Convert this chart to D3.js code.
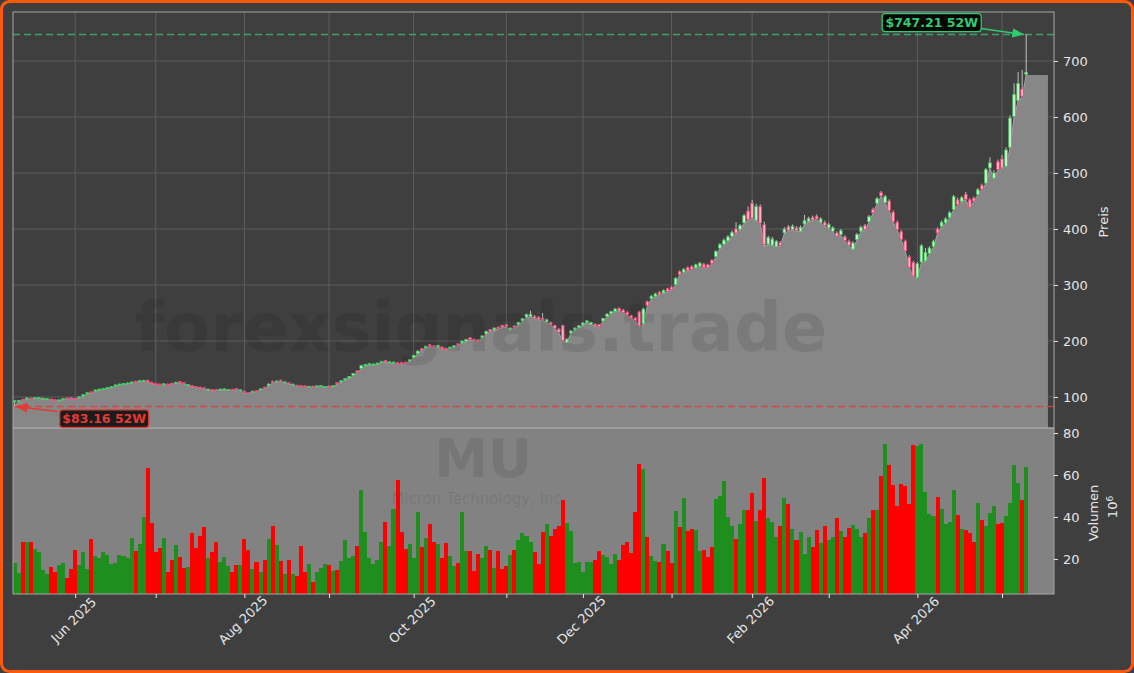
<!DOCTYPE html>
<html>
<head>
<meta charset="utf-8">
<script src="https://cdn.jsdelivr.net/npm/d3@7"></script>
<style>
html, body { margin: 0; padding: 0; background: #3f3f3f; }
svg { display: block; font-family: "DejaVu Sans", sans-serif; }
</style>
</head>
<body>
<svg id="chart" width="1134" height="673"></svg>
<script>
// daily OHLC + volume (millions), one entry per trading day
var opens = [91.8, 92.8, 95.8, 96.8, 98, 97.8, 98.3, 96.8, 96.2, 96.2,
    95.2, 93.8, 95.8, 98.2, 98.6, 97.8, 98.8, 101.8, 105.8, 109,
    110.8, 112.8, 113.8, 115.8, 116.8, 119.8, 121.8, 122.8, 123.8, 125.3,
    128, 127.8, 128.3, 129.5, 126.2, 124, 123, 122.2, 123, 124.5,
    124.8, 127.5, 125.5, 120.8, 120.5, 118.8, 117.5, 116.3, 112.8, 113,
    113.5, 112.8, 113.3, 112.3, 113.8, 115, 111.8, 110.2, 108, 108.8,
    111.5, 112.8, 117.5, 119.8, 128, 126.8, 130, 125.8, 125.3, 121.8,
    121, 120.3, 119.8, 117.8, 119.3, 118.8, 119.3, 117.8, 119.5, 118.8,
    125.5, 126.8, 130.8, 133.8, 138.8, 146.5, 151, 155.8, 157.8, 157.3,
    158.8, 161.8, 165, 161.3, 160.8, 161, 161.3, 162.3, 163.8, 170.8,
    177.8, 186.3, 187.8, 193.3, 191.3, 189.8, 189, 186.8, 186.8, 188.8,
    195, 196.8, 199.8, 205.5, 203, 202, 205.8, 212.8, 220, 219.8,
    224.5, 227.5, 228.5, 219.8, 226.5, 228.8, 235.8, 242.8, 243.8, 244,
    242, 241, 233.8, 233, 227.5, 221, 228, 197.8, 213.8, 219.8,
    223.8, 228.8, 232.8, 229.8, 230, 229, 235.8, 243.8, 248.8, 252.8,
    258, 255, 251, 245, 241, 252, 231, 270, 275.8, 279.8,
    287, 285.8, 293, 296, 300.8, 324, 322.8, 331, 333, 330.8,
    333.8, 337, 336, 344, 350.8, 365.8, 372.8, 378.8, 386.8, 400,
    398.8, 410.8, 432, 446, 415.8, 440, 408, 372.8, 370.8, 368.8,
    376, 393, 404, 399, 402, 396, 409, 414, 421, 423,
    412, 412, 402, 396, 393, 390, 386, 378, 364, 381,
    396, 406, 413, 435, 446, 465, 447, 450, 430, 412,
    395, 378, 350, 340, 313, 341, 343, 356, 369, 400,
    405, 411, 421, 435, 452, 449, 462, 452, 455, 462,
    478, 482, 509, 491, 520, 525, 512, 546, 601, 629,
    650, 676];

var highs = [94, 94.5, 96.5, 99, 98.8, 99.5, 99.8, 98.5, 97.5, 97,
    96, 95.5, 97.6, 98.8, 99.2, 98.5, 101.2, 104.8, 108.2, 109.8,
    113.2, 114.8, 116, 117.8, 119.2, 122.2, 123.8, 124.8, 125.8, 127.5,
    128.8, 130, 130.5, 131, 127, 124.8, 123.8, 124.2, 123.8, 125.2,
    127, 128.2, 126.2, 123, 121.2, 119.5, 118.2, 117, 114.8, 113.8,
    114.2, 114.8, 115.2, 114.2, 114.5, 115.8, 113.8, 111, 108.8, 111,
    112.2, 115.2, 118.2, 124, 129, 129.3, 130.8, 127.8, 126, 123.8,
    121.8, 121, 120.5, 119.8, 120, 120.5, 121, 119.5, 120.2, 120.8,
    126.3, 129.8, 134, 137.5, 143, 147.5, 157.5, 159, 160.5, 159.8,
    161.3, 164.5, 166, 163.8, 163.2, 162, 162.2, 163.2, 167.5, 175.2,
    183.3, 187.5, 191.8, 194.5, 192.5, 193.2, 190.2, 188, 190.2, 192.8,
    196.2, 200.8, 203.8, 206.8, 204.2, 203.2, 210.3, 218.5, 221.3, 224.3,
    225.8, 228.8, 229.8, 224.3, 227.8, 234.5, 241.5, 249, 254, 246,
    244, 250, 240, 235, 229, 223, 229, 205, 219.5, 224.5,
    228.5, 233.5, 237.5, 234.5, 231.5, 230.5, 241.5, 249.5, 254, 259,
    260, 257, 253, 247, 243, 254, 259, 272, 282, 286,
    289, 292, 295, 298, 314, 326, 330, 333, 335, 338,
    341, 339, 338, 346, 362, 375, 383, 389, 397, 412,
    409, 427, 440, 452, 445, 444, 413, 388, 386, 380,
    378, 403, 407, 408, 405, 406, 425, 422, 424, 426,
    421, 415, 411, 405, 396, 400, 389, 381, 378, 393,
    406, 409, 425, 438, 457, 468, 461, 453, 433, 415,
    398, 381, 353, 343, 341, 373, 366, 369, 381, 403,
    415, 421, 432, 461, 456, 459, 466, 455, 458, 473,
    481, 509, 528, 505, 524, 532, 546, 603, 660, 680,
    684, 747.21];

var lows = [83.16, 92, 94, 96, 96.5, 97, 97.5, 96, 95.5, 94.5,
    93.5, 93, 95, 96.5, 97, 96, 98, 101, 105, 107,
    110, 112, 113, 115, 116, 119, 121, 122, 123, 124.5,
    126, 127, 127.5, 126, 124, 122, 121, 121.5, 121, 122.5,
    124, 125.5, 123, 120, 118, 116.5, 115.5, 114, 112, 111,
    111.5, 112, 112.5, 111.5, 112, 113, 111, 107, 106, 108,
    109.5, 112, 115, 119, 125, 126, 127.5, 125, 123, 121,
    119, 118.5, 118, 117, 117.5, 118, 118.5, 117, 117.5, 118,
    123, 126, 130, 133, 138, 143, 150, 155, 157, 156.5,
    158, 161, 162, 160.5, 160, 158.5, 159, 160, 163, 170,
    177, 183, 187, 190, 188.5, 189, 186, 184, 186, 188,
    192, 196, 199, 202, 200, 199, 205, 212, 216, 219,
    221, 224, 225, 219, 223, 228, 235, 242, 243, 240,
    238, 237, 233, 228, 222, 215, 200, 197, 213, 219,
    223, 228, 232, 229, 226, 225, 235, 243, 248, 252,
    253, 250, 246, 240, 236, 226, 229, 262, 275, 279,
    282, 285, 288, 291, 300, 318, 322, 325, 327, 330,
    333, 331, 330, 338, 350, 365, 372, 378, 386, 392,
    398, 410, 416, 418, 415, 410, 369, 372, 370, 368,
    370, 392, 396, 398, 396, 395, 408, 413, 415, 417,
    411, 405, 401, 395, 386, 389, 378, 370, 363, 380,
    395, 398, 412, 428, 445, 458, 446, 432, 412, 398,
    380, 360, 330, 315, 312, 340, 342, 355, 368, 392,
    404, 410, 420, 434, 443, 448, 452, 438, 449, 461,
    470, 481, 508, 490, 505, 508, 511, 545, 600, 628,
    636, 675];

var closes = [93.3, 93.8, 94.8, 98.3, 97.3, 98.8, 99, 97.8, 96.9, 95.2,
    94.2, 94.8, 97, 97.2, 97.8, 96.8, 100.5, 104, 107.5, 107.8,
    112.5, 114, 115.2, 117, 118.5, 121.5, 123, 124, 125, 126.8,
    126.8, 129.2, 129.8, 126.8, 124.8, 122.8, 121.8, 123.5, 121.8, 123.3,
    126.2, 126.3, 123.8, 122.2, 118.8, 117.3, 116.3, 114.8, 114, 111.8,
    112.3, 114, 114.5, 113.5, 112.8, 113.8, 113, 107.8, 106.8, 110.3,
    110.3, 114.5, 115.8, 123, 125.8, 128.5, 128.3, 127, 123.8, 123,
    119.8, 119.3, 118.8, 119, 118.3, 119.8, 120.3, 118.8, 118.3, 120,
    123.8, 129, 133, 136.5, 142, 143.8, 156, 158, 159.5, 158.8,
    160.5, 163.5, 162.8, 162.8, 162.3, 159.3, 159.8, 160.8, 166.5, 174,
    182, 183.8, 190.5, 190.8, 189.3, 192, 186.8, 184.8, 189, 191.5,
    192.8, 199.5, 202.5, 202.8, 200.8, 199.8, 209, 217, 216.8, 223,
    221.8, 224.8, 225.8, 223, 223.8, 233, 240, 247, 247.5, 240.8,
    238.8, 237.8, 238, 228.8, 222.8, 215.8, 201, 203, 218, 223,
    227, 232, 236, 233, 226.8, 225.8, 240, 248, 252.5, 257,
    253.8, 250.8, 246.8, 240.8, 236.8, 227, 257, 264, 280, 284,
    282.8, 290, 288.8, 291.8, 312, 318.8, 328, 325.8, 327.8, 336,
    339, 331.8, 330.8, 338.8, 360, 372, 380, 386, 394, 392.8,
    406, 424, 416.8, 418.8, 440, 410.8, 372, 385, 382, 378,
    371, 400, 397, 405, 397, 403, 415, 419, 416, 418,
    418, 406, 408, 402, 387, 397, 379, 371, 375, 390,
    403, 399, 422, 429, 454, 459, 458, 433, 413, 399,
    381, 361, 331, 316, 338, 370, 358, 366, 378, 393,
    412, 418, 429, 458, 444, 456, 453, 439, 450, 470,
    471, 506, 518, 500, 506, 509, 541, 598, 640, 660,
    637, 680];

var volumes = [18, 13.5, 28, 28.3, 28.3, 24.8, 23.2, 14.7, 12.8, 16.2,
    13.8, 17, 18, 11, 15.2, 24.3, 17.1, 23.3, 15.2, 29.5,
    21.4, 20.5, 23.3, 21.9, 17.5, 18, 21.9, 21.4, 20.5, 30,
    23.8, 27.2, 40, 63.4, 37.2, 23.3, 25.2, 30, 13.8, 19.5,
    26.7, 21, 15.7, 16.2, 32.4, 25.2, 31, 35.3, 20.3, 23.3,
    28.3, 18.6, 21, 16.7, 13.6, 17.1, 17.1, 29.5, 24.3, 15.2,
    18.6, 13.6, 19.5, 29.5, 35.8, 26.7, 19, 12.8, 19.5, 12.8,
    11.9, 26.2, 13.8, 17.5, 9, 13.6, 15.7, 17.5, 17.1, 14.3,
    14.7, 19, 29, 20.3, 21.4, 26.2, 53, 32.9, 20.5, 17.5,
    19.5, 28.3, 37.7, 26.2, 43.9, 57.7, 33, 24.8, 27.2, 20.5,
    42.4, 25.7, 30, 36.7, 28.3, 27.2, 20.5, 27.7, 21.4, 16.7,
    18, 42.4, 23.8, 23.8, 14.3, 22.4, 20.3, 26.2, 24.3, 15.7,
    23.8, 15.2, 16.7, 21.9, 24.3, 29, 32.4, 31, 28.3, 23.3,
    17.5, 32.9, 36.7, 31, 34.3, 35.8, 48.2, 37.2, 33.4, 18,
    18.6, 13.6, 18.6, 18.6, 19.5, 23.8, 21.9, 21, 17.5, 22.4,
    19.5, 26.7, 28.1, 23, 42.4, 65.3, 63, 30.6, 21.4, 19,
    18.6, 27.2, 23.8, 18, 42.9, 35.3, 49, 33.4, 34.3, 33.9,
    23.8, 24.3, 21, 25.7, 48.7, 50.1, 57.2, 40, 35.8, 29.5,
    36.7, 43.4, 43.4, 51.5, 38.2, 43.4, 58.7, 39.5, 37.7, 30.6,
    35.8, 49, 46.3, 34.3, 29.1, 32.9, 22.4, 30.5, 25.7, 33.8,
    27.6, 35.8, 29.1, 30.5, 39.6, 33.4, 30.5, 34.8, 36.2, 34.3,
    30.5, 32.4, 39.6, 43.4, 43.4, 59.6, 74.9, 64.9, 55.3, 45.3,
    55.8, 54.8, 46.3, 74.4, 73.9, 74.9, 52, 41.5, 40.5, 49.6,
    43.9, 36.7, 37.7, 53, 41, 34.3, 33.8, 32.4, 28.1, 46.7,
    38.6, 35.8, 42, 45.3, 36.7, 37.2, 40.5, 46.7, 64.9, 56.3,
    48.2, 63.9];

// trading calendar
var firstDay = "2025-05-09";
var holidays = ["2025-05-26", "2025-06-19", "2025-07-04", "2025-09-01", "2025-11-27",
    "2025-12-25", "2026-01-01", "2026-01-19", "2026-02-16", "2026-04-03"];

var monthLabels = ["Jun 2025", "Aug 2025", "Oct 2025", "Dec 2025", "Feb 2026", "Apr 2026"];
var priceTicks = [100, 200, 300, 400, 500, 600, 700];
var volumeTicks = [20, 40, 60, 80];
var high52 = 747.21, low52 = 83.16;

var parse = d3.utcParse("%Y-%m-%d"),
    iso = d3.utcFormat("%Y-%m-%d"),
    monthFmt = d3.utcFormat("%b %Y");

var days = [];
var day = parse(firstDay);
while (days.length < closes.length) {
    var wd = day.getUTCDay();
    if (wd !== 0 && wd !== 6 && holidays.indexOf(iso(day)) < 0) days.push(day);
    day = d3.utcDay.offset(day, 1);
}
var monthStarts = [];
days.forEach(function(d, i) {
    if (i > 0 && d.getUTCMonth() !== days[i - 1].getUTCMonth()) monthStarts.push(i);
});

var n = closes.length;
var left = 13, right = 1054, pTop = 12, pBottom = 428, vBottom = 594;

var x = d3.scaleLinear().domain([-0.42, n + 5.9]).range([left, right]);
var yP = d3.scaleLinear().domain([44.6, 787.5]).range([pBottom, pTop]);
var yV = d3.scaleLinear().domain([3.3, 82.4]).range([vBottom, pBottom]);
var step = x(1) - x(0);

var txt = "#e6e6e6";
var svg = d3.select("#chart");

// figure with orange frame
svg.append("rect")
    .attr("x", 1.5).attr("y", 1.5)
    .attr("width", 1131).attr("height", 670)
    .attr("rx", 8)
    .attr("fill", "#3f3f3f")
    .attr("stroke", "#ff5a0a")
    .attr("stroke-width", 3);

// ---------- price panel ----------
var price = svg.append("g");

price.append("g").selectAll("line")
    .data(priceTicks)
    .enter().append("line")
    .attr("x1", left).attr("x2", right)
    .attr("y1", function(d) { return yP(d); })
    .attr("y2", function(d) { return yP(d); })
    .attr("stroke", "#5e5e5e").attr("stroke-width", 1);

price.append("g").selectAll("line")
    .data(monthStarts)
    .enter().append("line")
    .attr("x1", function(d) { return x(d); })
    .attr("x2", function(d) { return x(d); })
    .attr("y1", pTop).attr("y2", pBottom)
    .attr("stroke", "#5e5e5e").attr("stroke-width", 1);

// area under the lows, carried flat a few slots past the last bar
var areaPts = lows.map(function(v, i) { return [i, v]; });
areaPts.unshift([x.domain()[0], lows[0]]);
areaPts.push([n + 4.4, lows[n - 1]]);

price.append("path")
    .datum(areaPts)
    .attr("fill", "#878787")
    .attr("d", d3.area()
        .x(function(d) { return x(d[0]); })
        .y0(pBottom)
        .y1(function(d) { return yP(d[1]); }));

price.append("path")
    .datum(areaPts.slice(0, n + 1))
    .attr("fill", "none")
    .attr("stroke", "#a3a3a3")
    .attr("stroke-width", 1)
    .attr("d", d3.line()
        .x(function(d) { return x(d[0]); })
        .y(function(d) { return yP(d[1]); }));

// 52 week lines
price.append("line")
    .attr("x1", left).attr("x2", right)
    .attr("y1", yP(high52)).attr("y2", yP(high52))
    .attr("stroke", "#3cb371").attr("stroke-opacity", 0.85)
    .attr("stroke-width", 1.5).attr("stroke-dasharray", "7,4");
price.append("line")
    .attr("x1", left).attr("x2", right)
    .attr("y1", yP(low52)).attr("y2", yP(low52))
    .attr("stroke", "#e0413a").attr("stroke-opacity", 0.85)
    .attr("stroke-width", 1.5).attr("stroke-dasharray", "7,4");

// candles
var candle = price.append("g").selectAll("g")
    .data(d3.range(n))
    .enter().append("g");

candle.append("line")
    .attr("x1", function(i) { return x(i); })
    .attr("x2", function(i) { return x(i); })
    .attr("y1", function(i) { return yP(highs[i]); })
    .attr("y2", function(i) { return yP(lows[i]); })
    .attr("stroke", "#d2d2d2").attr("stroke-width", 0.9);

candle.append("rect")
    .attr("x", function(i) { return x(i) - step * 0.34; })
    .attr("width", step * 0.68)
    .attr("y", function(i) { return yP(Math.max(opens[i], closes[i])); })
    .attr("height", function(i) { return Math.max(1, Math.abs(yP(opens[i]) - yP(closes[i]))); })
    .attr("fill", function(i) { return closes[i] >= opens[i] ? "#cfeecf" : "#f6b3c4"; })
    .attr("stroke", function(i) { return closes[i] >= opens[i] ? "#3cc35a" : "#e5436f"; })
    .attr("stroke-width", 0.8);

// ---------- volume panel ----------
var vol = svg.append("g");
vol.append("rect")
    .attr("x", left).attr("y", pBottom)
    .attr("width", right - left).attr("height", vBottom - pBottom)
    .attr("fill", "#828282");

vol.selectAll(".bar")
    .data(volumes)
    .enter().append("rect")
    .attr("class", "bar")
    .attr("x", function(d, i) { return x(i - 0.5); })
    .attr("width", step)
    .attr("y", function(d) { return yV(d); })
    .attr("height", function(d) { return vBottom - yV(d); })
    .attr("fill", function(d, i) { return closes[i] >= opens[i] ? "#1e8f1e" : "#ff0000"; })
    .attr("shape-rendering", "crispEdges");

// ---------- watermark ----------
var wm = svg.append("g").attr("fill", "#000").attr("fill-opacity", 0.09)
    .attr("text-anchor", "middle");
wm.append("text")
    .attr("x", 481).attr("y", 351)
    .attr("font-size", 67).attr("font-weight", "bold")
    .text("forexsignals.trade");
wm.append("text")
    .attr("x", 483).attr("y", 477)
    .attr("font-size", 54).attr("font-weight", "bold")
    .text("MU");
wm.append("text")
    .attr("x", 479).attr("y", 504)
    .attr("font-size", 15)
    .text("Micron Technology, Inc.");

// ---------- frames ----------
svg.append("rect")
    .attr("x", left).attr("y", pTop)
    .attr("width", right - left).attr("height", pBottom - pTop)
    .attr("fill", "none").attr("stroke", "#a8a8a8").attr("stroke-width", 1);
svg.append("rect")
    .attr("x", left).attr("y", pBottom)
    .attr("width", right - left).attr("height", vBottom - pBottom)
    .attr("fill", "none").attr("stroke", "#a8a8a8").attr("stroke-width", 1);

// ---------- axes ----------
function styleAxis(g) {
    g.select(".domain").remove();
    g.selectAll("line").attr("stroke", txt);
    g.selectAll("text").attr("fill", txt).attr("font-size", 13)
        .attr("font-family", "DejaVu Sans, sans-serif");
}

svg.append("g")
    .attr("transform", "translate(" + right + ",0)")
    .call(d3.axisRight(yP).tickValues(priceTicks).tickSize(4).tickPadding(5))
    .call(styleAxis);

svg.append("g")
    .attr("transform", "translate(" + right + ",0)")
    .call(d3.axisRight(yV).tickValues(volumeTicks).tickSize(4).tickPadding(5))
    .call(styleAxis);

var xAxis = svg.append("g")
    .attr("transform", "translate(0," + vBottom + ")")
    .call(d3.axisBottom(x).tickValues(monthStarts).tickSize(4)
        .tickFormat(function(i) {
            var s = monthFmt(days[i]);
            return monthLabels.indexOf(s) >= 0 ? s : "";
        }))
    .call(styleAxis);
xAxis.selectAll("text")
    .attr("y", 0).attr("dy", "0.35em")
    .attr("text-anchor", "middle")
    .attr("transform", "translate(-2,26) rotate(-45)");

svg.append("text")
    .attr("transform", "translate(1103,222) rotate(-90)")
    .attr("text-anchor", "middle").attr("dy", "0.35em")
    .attr("fill", txt).attr("font-size", 13)
    .text("Preis");
svg.append("text")
    .attr("transform", "translate(1093,513) rotate(-90)")
    .attr("text-anchor", "middle").attr("dy", "0.35em")
    .attr("fill", txt).attr("font-size", 13)
    .text("Volumen");
var exp = svg.append("text")
    .attr("transform", "translate(1112,507) rotate(-90)")
    .attr("text-anchor", "middle").attr("dy", "0.35em")
    .attr("fill", txt).attr("font-size", 13);
exp.append("tspan").text("10");
exp.append("tspan").attr("dy", "-0.45em").attr("font-size", 9).text("6");

// ---------- 52W annotations ----------
var defs = svg.append("defs");
[["arrowG", "#2ecc71"], ["arrowR", "#e53935"]].forEach(function(a) {
    defs.append("marker")
        .attr("id", a[0]).attr("viewBox", "0 0 10 10")
        .attr("refX", 10).attr("refY", 5)
        .attr("markerWidth", 8).attr("markerHeight", 8)
        .attr("orient", "auto-start-reverse")
        .append("path").attr("d", "M0,1 L10,5 L0,9 z").attr("fill", a[1]);
});

var hiX = x(d3.maxIndex(highs)), hiY = yP(high52);
var loX = x(d3.minIndex(lows)), loY = yP(low52);

svg.append("line")
    .attr("x1", hiX - 45).attr("y1", hiY - 6)
    .attr("x2", hiX - 2).attr("y2", hiY)
    .attr("stroke", "#2ecc71").attr("stroke-width", 1.5)
    .attr("marker-end", "url(#arrowG)");
svg.append("rect")
    .attr("x", hiX - 144).attr("y", hiY - 21)
    .attr("width", 99).attr("height", 18).attr("rx", 3)
    .attr("fill", "#050505").attr("stroke", "#2ecc71").attr("stroke-width", 1.3);
svg.append("text")
    .attr("x", hiX - 94.5).attr("y", hiY - 12).attr("dy", "0.35em")
    .attr("text-anchor", "middle")
    .attr("font-size", 12.5).attr("font-weight", "bold")
    .attr("fill", "#2ecc71")
    .text("$" + high52.toFixed(2) + " 52W");

svg.append("line")
    .attr("x1", loX + 43).attr("y1", loY + 5)
    .attr("x2", loX + 1).attr("y2", loY)
    .attr("stroke", "#e53935").attr("stroke-width", 1.5)
    .attr("marker-end", "url(#arrowR)");
svg.append("rect")
    .attr("x", loX + 45).attr("y", loY + 3.5)
    .attr("width", 89).attr("height", 17.5).attr("rx", 3)
    .attr("fill", "#1c1c1c").attr("stroke", "#e53935").attr("stroke-width", 1.3);
svg.append("text")
    .attr("x", loX + 89.5).attr("y", loY + 12.3).attr("dy", "0.35em")
    .attr("text-anchor", "middle")
    .attr("font-size", 12.5).attr("font-weight", "bold")
    .attr("fill", "#e53935")
    .text("$" + low52.toFixed(2) + " 52W");
</script>
</body>
</html>
